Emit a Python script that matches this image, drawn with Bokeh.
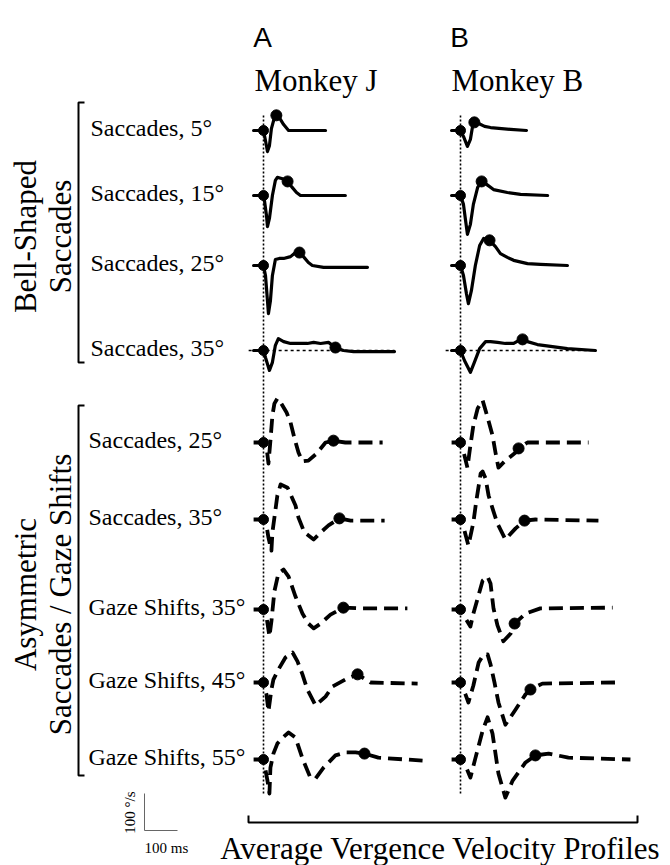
import math
from bokeh.plotting import figure
from bokeh.models import Range1d, Label
from bokeh.embed import file_html
from bokeh.resources import INLINE

# ---------------- data (time in ms from onset, vergence velocity in deg/s) ----------------
column_letters = ["A", "B"]
column_titles = ["Monkey J", "Monkey B"]
bell_labels = ["Saccades, 5°", "Saccades, 15°", "Saccades, 25°", "Saccades, 35°"]
asym_labels = ["Saccades, 25°", "Saccades, 35°", "Gaze Shifts, 35°", "Gaze Shifts, 45°", "Gaze Shifts, 55°"]
section_titles = [["Bell-Shaped", "Saccades"], ["Asymmetric", "Saccades / Gaze Shifts"]]
bottom_title = "Average Vergence Velocity Profiles"
scale_time_ms = 100
scale_vel_dps = 100
scale_labels = ["100 ms", "100 °/s"]

# Monkey J, bell-shaped saccades
J_s5_t = [-30, -9, 0, 6, 12, 18, 24, 33, 39, 48, 61, 76, 112, 188]
J_s5_v = [0, 0, 0, -27, -57, -41, 5, 35, 41, 35, 16, 0, 0, 0]
J_s15_t = [-30, 0, 3, 9, 12, 18, 27, 36, 42, 55, 64, 73, 85, 100, 112, 248]
J_s15_v = [0, 0, -14, -54, -84, -62, 0, 41, 49, 46, 43, 38, 24, 8, 0, 0]
J_s25_t = [-30, 0, 6, 12, 15, 21, 27, 36, 48, 61, 82, 97, 109, 121, 136, 148, 182, 315]
J_s25_v = [0, 0, -27, -95, -130, -95, -27, 16, 19, 19, 24, 35, 35, 24, 8, 0, -5, -5]
J_s35_t = [-30, 0, 6, 18, 27, 36, 45, 61, 82, 112, 133, 152, 173, 197, 218, 242, 273, 397]
J_s35_v = [0, 0, -19, -54, -32, 14, 32, 24, 19, 19, 19, 22, 19, 22, 8, 0, -3, -3]
J_bell_mark_t = [39, 73, 109, 218]
J_bell_mark_v = [41, 38, 35, 8]

# Monkey B, bell-shaped saccades
B_s5_t = [-27, 0, 9, 21, 30, 36, 42, 55, 73, 91, 152, 200]
B_s5_v = [0, 0, -16, -43, -24, 8, 22, 19, 11, 8, 3, 0]
B_s15_t = [-27, 0, 9, 15, 21, 30, 39, 52, 64, 79, 100, 142, 182, 264]
B_s15_v = [0, 0, -24, -65, -105, -78, -24, 22, 38, 30, 16, 8, 3, 0]
B_s25_t = [-27, 0, 9, 18, 24, 33, 45, 58, 70, 88, 106, 121, 142, 161, 203, 242, 324]
B_s25_v = [0, 0, -27, -76, -103, -68, 0, 54, 73, 68, 51, 32, 22, 14, 5, 3, 0]
B_s35_t = [-27, 0, 12, 30, 42, 58, 76, 91, 112, 136, 161, 176, 188, 203, 233, 273, 324, 409]
B_s35_v = [0, 0, -27, -59, -32, 5, 24, 24, 22, 19, 19, 27, 30, 24, 16, 11, 5, 0]
B_bell_mark_t = [42, 64, 88, 188]
B_bell_mark_v = [22, 38, 68, 30]

# Monkey J, asymmetric saccades / gaze shifts
J_a25_t = [-30, 0, 9, 15, 21, 27, 33, 42, 52, 70, 82, 94, 106, 118, 136, 161, 188, 212, 248, 361]
J_a25_v = [0, 0, -11, -57, 5, 73, 105, 119, 108, 81, 54, 11, -27, -51, -49, -30, 0, 5, 0, 0]
J_a35_t = [-30, 0, 9, 15, 24, 27, 42, 52, 73, 97, 106, 124, 152, 173, 197, 230, 264, 367]
J_a35_v = [0, 0, -16, -49, -84, -35, 65, 95, 86, 38, 5, -35, -54, -35, -16, 3, -3, -3]
J_g35_t = [-30, 0, 9, 18, 24, 33, 45, 61, 76, 97, 118, 136, 152, 173, 203, 242, 294, 436]
J_g35_v = [0, 0, -19, -73, -32, 49, 97, 108, 89, 35, -11, -38, -51, -38, -14, 5, 3, 3]
J_g45_t = [-30, 0, 9, 15, 24, 30, 45, 67, 88, 103, 118, 133, 158, 188, 209, 248, 285, 324, 467]
J_g45_v = [0, 0, -32, -78, -19, 8, 35, 68, 81, 57, 22, -19, -62, -38, -11, 8, 22, 0, -3]
J_g55_t = [-30, 0, 12, 18, 21, 30, 42, 58, 76, 97, 118, 142, 158, 182, 218, 248, 279, 306, 348, 482]
J_g55_v = [0, 0, -57, -92, -22, 16, 43, 59, 73, 59, 3, -49, -51, -22, 11, 19, 19, 16, 5, -3]
J_asym_mark_t = [212, 230, 242, 285, 306]
J_asym_mark_v = [5, 3, 5, 22, 16]

# Monkey B, asymmetric saccades / gaze shifts
B_a25_t = [-27, 0, 12, 21, 30, 39, 52, 67, 82, 97, 106, 115, 136, 167, 176, 203, 388]
B_a25_v = [0, 0, -35, -68, -8, 46, 92, 114, 68, 19, -27, -68, -49, -27, -16, 0, 0]
B_a35_t = [-27, 0, 12, 24, 39, 48, 61, 67, 76, 85, 97, 112, 136, 167, 194, 227, 418]
B_a35_v = [0, 0, -30, -70, -8, 51, 124, 130, 111, 65, 30, -11, -54, -24, -3, 0, -3]
B_g35_t = [-27, 0, 15, 30, 39, 52, 67, 82, 91, 100, 112, 130, 152, 164, 197, 242, 461]
B_g35_v = [0, 0, -24, -46, -11, 30, 78, 89, 70, 3, -43, -86, -65, -38, -11, 3, 5]
B_g45_t = [-27, 0, 15, 24, 39, 55, 70, 82, 91, 103, 115, 136, 167, 197, 212, 248, 470]
B_g45_v = [0, 0, -32, -54, -8, 54, 76, 76, 49, 0, -54, -114, -73, -32, -19, -3, 0]
B_g55_t = [-27, 0, 15, 30, 45, 67, 82, 97, 115, 136, 158, 197, 227, 267, 327, 515]
B_g55_v = [0, 0, -16, -49, 3, 78, 114, 70, -38, -103, -57, -8, 11, 16, 5, 0]
B_asym_mark_t = [176, 194, 164, 212, 227]
B_asym_mark_v = [-16, -3, -38, -19, 11]

# ---------------- layout (page pixels) ----------------
W, H = 670, 865
SX, SY = 0.33, 0.37          # px per ms, px per deg/s
COL_X = [263, 460]           # onset line of each column
BELL_Y = [130, 195, 265, 350]
ASYM_Y = [442, 519, 609, 682, 759]
SERIF = "Liberation Serif"
SANS = "Liberation Sans"


def fx(px):
    return px / SX


def fy(py):
    return -py / SY


p = figure(width=W, height=H, output_backend="svg", toolbar_location=None,
           x_range=Range1d(0, W / SX), y_range=Range1d(-H / SY, 0),
           x_axis_type=None, y_axis_type=None, min_border=0,
           background_fill_color="white", border_fill_color="white")
p.outline_line_color = None
p.grid.visible = False

# onset dotted lines
for cx in COL_X:
    p.line([fx(cx), fx(cx)], [fy(115), fy(793)], line_color="black",
           line_width=1.6, line_dash="2 2")

# dashed zero line on the 35° bell row
for cx, tr_end in zip(COL_X, [J_s35_t[-1], B_s35_t[-1]]):
    p.line([fx(cx) - 45, fx(cx) + tr_end], [fy(BELL_Y[3])] * 2, line_color="black",
           line_width=1.6, line_dash="3 3")

bell = [
    [(J_s5_t, J_s5_v), (J_s15_t, J_s15_v), (J_s25_t, J_s25_v), (J_s35_t, J_s35_v)],
    [(B_s5_t, B_s5_v), (B_s15_t, B_s15_v), (B_s25_t, B_s25_v), (B_s35_t, B_s35_v)],
]
bell_marks = [(J_bell_mark_t, J_bell_mark_v), (B_bell_mark_t, B_bell_mark_v)]
asym = [
    [(J_a25_t, J_a25_v), (J_a35_t, J_a35_v), (J_g35_t, J_g35_v), (J_g45_t, J_g45_v), (J_g55_t, J_g55_v)],
    [(B_a25_t, B_a25_v), (B_a35_t, B_a35_v), (B_g35_t, B_g35_v), (B_g45_t, B_g45_v), (B_g55_t, B_g55_v)],
]
asym_marks = [(J_asym_mark_t, J_asym_mark_v), (B_asym_mark_t, B_asym_mark_v)]


def draw(traces, marks, rows, dashed):
    for c, cx in enumerate(COL_X):
        x0 = fx(cx)
        mt, mv = marks[c]
        for r, by in enumerate(rows):
            t, v = traces[c][r]
            y0 = fy(by)
            xs = [x0 + ti for ti in t]
            ys = [y0 + vi for vi in v]
            if dashed:
                p.line(xs, ys, line_color="black", line_width=3.8, line_dash="14 7",
                       line_join="round", line_cap="butt")
            else:
                p.line(xs, ys, line_color="black", line_width=3.2,
                       line_join="round", line_cap="round")
            p.scatter([x0], [y0], size=10, color="black")
            p.scatter([x0 + mt[r]], [y0 + mv[r]], size=11, color="black")


draw(bell, bell_marks, BELL_Y, False)
draw(asym, asym_marks, ASYM_Y, True)

# brackets
for top, bot in [(102, 362), (405, 775)]:
    p.line([fx(84), fx(78), fx(78), fx(84)], [fy(top), fy(top), fy(bot), fy(bot)],
           line_color="black", line_width=2)
p.line([fx(248), fx(248), fx(637), fx(637)], [fy(815), fy(822), fy(822), fy(815)],
       line_color="black", line_width=2)

# scale bar
sb_x, sb_y = fx(144), fy(830)
p.line([sb_x, sb_x, sb_x + scale_time_ms], [sb_y + scale_vel_dps, sb_y, sb_y],
       line_color="#666666", line_width=1)


def lab(text, px, py, size, font=SERIF, align="left", baseline="middle", angle=0):
    p.add_layout(Label(x=fx(px), y=fy(py), text=text, text_font=font,
                       text_font_size=f"{size}px", text_align=align,
                       text_baseline=baseline, angle=angle, text_color="black"))


for cx, letter, title in zip(COL_X, column_letters, column_titles):
    lab(letter, cx - 1, 37, 28, font=SANS, align="center", baseline="alphabetic")
    lab(title, cx - 9, 80, 31, baseline="alphabetic")

for txt, by in zip(bell_labels, BELL_Y):
    lab(txt, 90, by - 3, 24)
for txt, by in zip(asym_labels, ASYM_Y):
    lab(txt, 88, by - 3, 24)

for (t1, t2), cy in zip(section_titles, [236, 594]):
    lab(t1, 25, cy, 31, align="center", angle=math.pi / 2)
    lab(t2, 60, cy, 31, align="center", angle=math.pi / 2)

lab(bottom_title, 440, 848, 31, align="center", baseline="alphabetic")
lab(scale_labels[0], 166, 847, 15, align="center", baseline="alphabetic")
lab(scale_labels[1], 129, 812, 15, align="center", angle=math.pi / 2)

open("out.html", "w").write(file_html(p, INLINE))
